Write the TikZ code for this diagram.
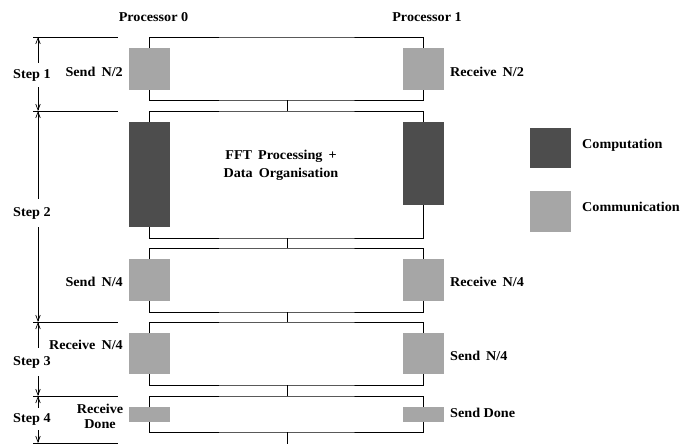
\documentclass[tikz,border=0pt]{standalone}
\usepackage{fontspec}
\setmainfont{Liberation Serif}[FakeStretch=1.05]
\usetikzlibrary{arrows.meta}
\definecolor{compgray}{RGB}{77,77,77}
\definecolor{commgray}{RGB}{166,166,166}
\newcommand{\wsp}{\hspace{0.45em}}
\begin{document}
\begin{tikzpicture}[x=1pt,y=-1pt,
  every node/.style={font=\fontsize{13.5}{16}\selectfont\bfseries},
  lbl/.style={inner sep=0pt},
  steplbl/.style={inner xsep=0pt,inner ysep=6pt},
  blk/.style={draw=none,inner sep=0pt,outer sep=0pt,minimum width=41pt},
  compblk/.style={blk,fill=compgray},
  commblk/.style={blk,fill=commgray},
  frame/.style={line width=0.8pt,black},
  dimarrow/.style={line width=0.7pt,-{Straight Barb[length=6pt,width=4.5pt]}},
]
\useasboundingbox (0,0) rectangle (684,444);

% column headers
\node[lbl,anchor=base] (p0) at (153.5,22) {Processor 0};
\node[lbl,anchor=base] (p1) at (427,22) {Processor 1};

% activity blocks, processor 0 (L) and processor 1 (R)
\node[commblk,minimum height=42pt] (L1) at (149.5,69) {};
\node[commblk,minimum height=42pt] (R1) at (423.5,69) {};
\node[compblk,minimum height=105pt] (L2) at (149.5,174.5) {};
\node[compblk,minimum height=83pt] (R2) at (423.5,163.5) {};
\node[commblk,minimum height=42pt] (L3) at (149.5,280) {};
\node[commblk,minimum height=42pt] (R3) at (423.5,280) {};
\node[commblk,minimum height=41pt] (L4) at (149.5,353.5) {};
\node[commblk,minimum height=41pt] (R4) at (423.5,353.5) {};
\node[commblk,minimum height=15pt] (L5) at (149.5,414.5) {};
\node[commblk,minimum height=15pt] (R5) at (423.5,414.5) {};

% synchronisation frames
\coordinate (T1) at (287,37);  \coordinate (B1) at (287,100);
\coordinate (T2) at (287,111); \coordinate (B2) at (287,238);
\coordinate (T3) at (287,248); \coordinate (B3) at (287,312);
\coordinate (T4) at (287,322); \coordinate (B4) at (287,385);
\coordinate (T5) at (287,396); \coordinate (B5) at (287,432);
\coordinate (E) at (287,444);
\foreach \i in {1,...,5}{
  \draw[frame] (L\i.north) |- (T\i) -| (R\i.north);
  \draw[frame] (L\i.south) |- (B\i) -| (R\i.south);
}
\draw[frame] (B1) -- (T2);
\draw[frame] (B2) -- (T3);
\draw[frame] (B3) -- (T4);
\draw[frame] (B4) -- (T5);
\draw[frame] (B5) -- (E);

% block labels (multi-line labels are placed by their last baseline)
\node[lbl,anchor=base east] (l1) at (123,76) {Send\wsp N/2};
\node[lbl,anchor=base west] (r1) at (450,76) {Receive\wsp N/2};
\node[lbl,align=center,anchor=base] (fft) at (281,177) {FFT\wsp Processing\wsp +\\[2pt]Data\wsp Organisation};
\node[lbl,anchor=base east] (l3) at (123,286) {Send\wsp N/4};
\node[lbl,anchor=base west] (r3) at (450,286) {Receive\wsp N/4};
\node[lbl,anchor=base east] (l4) at (123,349) {Receive\wsp N/4};
\node[lbl,anchor=base west] (r4) at (450,360) {Send\wsp N/4};
\node[lbl,align=center,anchor=base] (l5) at (100,428) {Receive\\[-1pt]Done};
\node[lbl,anchor=base west] (r5) at (450,417) {Send Done};

% legend
\node[compblk,minimum height=40pt] (kcomp) at (550,148) {};
\node[lbl,anchor=base west] (kcompt) at (582,148) {Computation};
\node[commblk,minimum height=41pt] (kcomm) at (550,211.5) {};
\node[lbl,anchor=base west] (kcommt) at (582,211) {Communication};

% step boundaries
\coordinate (S0) at (38,37);
\coordinate (S1) at (38,111);
\coordinate (S2) at (38,322);
\coordinate (S3) at (38,396);
\coordinate (S4) at (38,443);
\foreach \s in {S0,S1,S2,S3,S4}{
  \draw[frame] (\s) ++(-5,0) -- ++(85,0);
}

% step labels with dimension arrows
\node[steplbl,anchor=base west] (st1) at (13,78) {Step 1};
\node[steplbl,anchor=base west,inner ysep=8pt] (st2) at (13,216) {Step 2};
\node[steplbl,anchor=base west,inner ysep=8pt] (st3) at (13,365) {Step 3};
\node[steplbl,anchor=base west,inner ysep=5pt] (st4) at (13,422) {Step 4};
\draw[dimarrow] (st1.north -| S0) -- (S0);
\draw[dimarrow] (st1.south -| S0) -- (S1);
\draw[dimarrow] (st2.north -| S0) -- (S1);
\draw[dimarrow] (st2.south -| S0) -- (S2);
\draw[dimarrow] (st3.north -| S0) -- (S2);
\draw[dimarrow] (st3.south -| S0) -- (S3);
\draw[dimarrow] (st4.north -| S0) -- (S3);
\draw[dimarrow] (st4.south -| S0) -- (S4);
\end{tikzpicture}
\end{document}
